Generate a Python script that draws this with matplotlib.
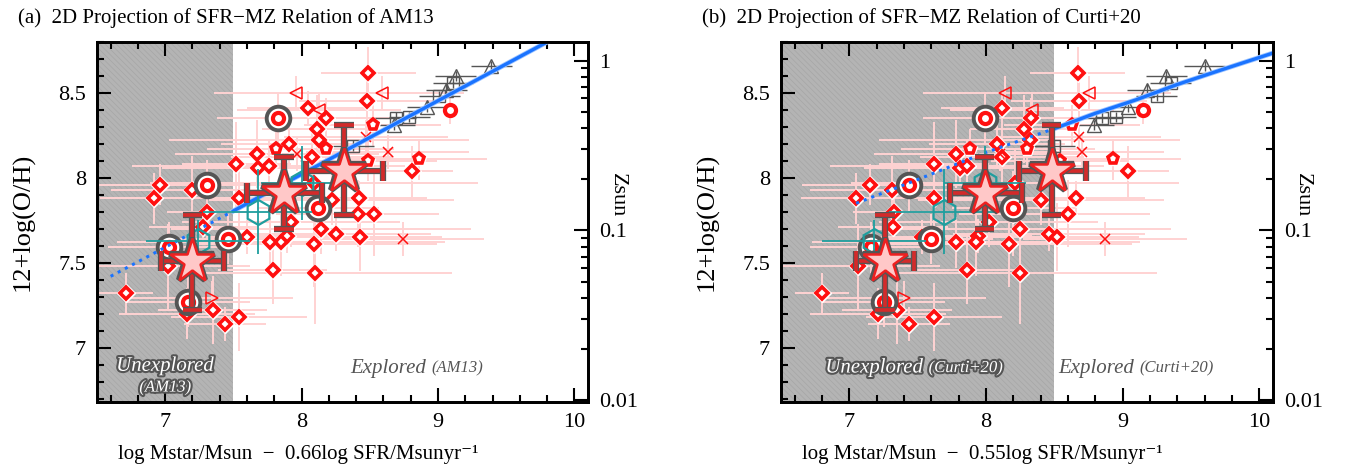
import numpy as np
import matplotlib.pyplot as plt
import matplotlib.patheffects as pe
from matplotlib.ticker import MultipleLocator, FixedLocator, FixedFormatter, NullFormatter

plt.rcParams['font.family'] = ['Liberation Serif', 'DejaVu Serif']
plt.rcParams['hatch.linewidth'] = 0.5

ZSUN = 8.69
YMIN, YMAX = 6.68, 8.8

# ---- red diamonds (same galaxies in both panels) ----
dia_y = [8.62, 8.45, 8.41, 8.35, 8.29, 8.22, 8.20, 8.14, 8.08, 8.06, 8.07, 8.12, 7.96, 7.88,
         7.93, 7.88, 7.80, 7.97, 7.87, 7.88, 7.79, 7.79, 7.70, 7.67, 7.65, 7.74, 7.66, 7.62,
         7.62, 7.61, 7.65, 7.46, 7.44, 8.04, 7.32, 7.22, 7.20, 7.14, 7.18, 7.48, 7.71]
dia_xa = [8.49, 8.48, 8.05, 8.18, 8.11, 8.13, 7.91, 7.67, 7.52, 7.68, 7.76, 8.08, 6.96, 6.92,
          7.20, 7.54, 7.31, 8.09, 8.22, 8.42, 8.41, 8.53, 8.14, 8.25, 8.43, 7.92, 7.89, 7.85,
          7.77, 8.09, 7.60, 7.79, 8.10, 8.81, 6.71, 7.35, 7.16, 7.44, 7.54, 7.02, 7.28]
dia_xb = [8.67, 8.68, 8.12, 8.33, 8.28, 8.32, 8.08, 7.78, 7.62, 7.81, 7.86, 8.12, 7.15, 7.05,
          7.31, 7.62, 7.33, 8.21, 8.40, 8.66, 8.60, 8.20, 8.25, 8.46, 8.52, 8.02, 7.94, 7.93,
          7.78, 8.17, 7.53, 7.86, 8.25, 9.04, 6.80, 7.35, 7.21, 7.44, 7.62, 7.06, 7.32]
dia_xerr = [0.35, 0.5, 0.45, 0.6, 0.4, 1.1, 0.5, 0.6, 0.4, 0.7, 1.0, 0.6, 0.5, 0.4, 0.6, 0.8,
            0.3, 1.2, 0.9, 0.5, 0.6, 0.4, 1.1, 0.7, 0.6, 0.8, 0.4, 1.2, 0.6, 0.9, 0.3, 0.4,
            1.0, 0.3, 0.2, 0.4, 0.5, 0.3, 0.5, 0.6, 0.4]
dia_yerr = [0.15, 0.2, 0.1, 0.12, 0.2, 0.1, 0.15, 0.2, 0.25, 0.1, 0.15, 0.2, 0.12, 0.15, 0.2,
            0.25, 0.1, 0.2, 0.15, 0.1, 0.2, 0.25, 0.15, 0.1, 0.2, 0.15, 0.1, 0.2, 0.15, 0.25,
            0.1, 0.2, 0.3, 0.15, 0.12, 0.2, 0.15, 0.1, 0.2, 0.25, 0.1]

# ---- red pentagons ----
pen_y = [8.17, 8.17, 8.31, 8.11, 8.10]
pen_xa = [7.81, 8.18, 8.52, 8.86, 8.49]
pen_xb = [7.88, 8.30, 8.63, 8.93, 8.54]

# ---- red open circles ----
cir_y = [8.40]
cir_xa = [9.09]
cir_xb = [9.15]

# ---- ringed targets ----
tgt_y = [8.35, 7.955, 7.64, 7.59, 7.27, 7.82]
tgt_xa = [7.83, 7.31, 7.46, 7.03, 7.17, 8.12]
tgt_xb = [7.99, 7.44, 7.60, 7.16, 7.25, 8.20]

# ---- open triangles left / right, crosses ----
ltri_y = [8.50, 8.50, 8.40]
ltri_xa = [7.96, 8.59, 8.13]
ltri_xb = [8.14, 8.75, 8.34]
rtri_y = [7.29]
rtri_xa = [7.34]
rtri_xb = [7.40]
crs_y = [8.14, 8.15, 7.64, 8.24]
crs_xa = [7.97, 8.63, 8.74, 8.47]
crs_xb = [8.10, 8.70, 8.87, 8.68]

# ---- gray stacks ----
gtri_y = [8.31, 8.42, 8.52, 8.60, 8.66]
gtri_xa = [8.68, 8.92, 9.06, 9.13, 9.39]
gtri_xb = [8.79, 9.04, 9.18, 9.32, 9.60]
gsq_y = [8.355, 8.36, 8.48, 8.56, 8.19]
gsq_xa = [8.69, 8.79, 9.01, 9.11, 8.38]
gsq_xb = [8.85, 8.95, 9.25, 9.35, 8.50]

# ---- teal hexagons ----
hex_y = [7.80, 7.63, 7.97]
hex_xa = [7.68, 7.24, 8.00]
hex_xb = [7.69, 7.18, 7.99]
hex_xerr = [0.4, 0.38, 0.3]
hex_yerr = [0.25, 0.12, 0.22]

# ---- stacked stars ----
star_y = [7.51, 7.91, 8.04]
star_yerr = [[0.29, 0.21, 0.26], [0.27, 0.21, 0.27]]
star_xa = [7.20, 7.87, 8.31]
star_xerr_a = [[0.23, 0.27, 0.28], [0.23, 0.28, 0.29]]
star_xb = [7.26, 7.99, 8.48]
star_xerr_b = [[0.21, 0.25, 0.24], [0.21, 0.27, 0.25]]

# ---- relations ----
fit_a_dot_x = [6.6, 7.5]
fit_a_dot_y = [7.42, 7.805]
fit_a_x = [7.5, 9.8]
fit_a_y = [7.805, 8.80]
fit_b_dot_x = [7.05, 7.5, 8.0, 8.5]
fit_b_dot_y = [7.85, 7.99, 8.15, 8.29]
fit_b_x = [8.5, 8.8, 9.1, 9.4, 9.7, 10.1]
fit_b_y = [8.29, 8.38, 8.46, 8.55, 8.63, 8.735]

PINK = '#ffd2d2'
RED = '#ff1010'
TEAL = '#1f9e9e'


def draw_panel(ax, xs, boundary, lab, coef, title, fit):
    ax.set_xlim(6.5, 10.1)
    ax.set_ylim(YMIN, YMAX)
    ax.axvspan(6.5, boundary, facecolor='#b4b4b4', edgecolor='#a6a6a6', hatch='\\\\\\\\\\\\',
               linewidth=0, zorder=0)

    # faint individual errors
    ax.errorbar(xs['dia'], dia_y, xerr=dia_xerr, yerr=dia_yerr, fmt='none', ecolor=PINK,
                elinewidth=1.4, zorder=1)
    ax.errorbar(xs['tgt'], tgt_y, xerr=0.45, yerr=0.15, fmt='none', ecolor=PINK, elinewidth=1.4, zorder=1)
    ax.errorbar(xs['pen'], pen_y, xerr=0.5, yerr=0.12, fmt='none', ecolor=PINK, elinewidth=1.4, zorder=1)
    ax.errorbar(xs['ltri'] + xs['crs'] + xs['rtri'], ltri_y + crs_y + rtri_y, xerr=0.6, yerr=0.1,
                fmt='none', ecolor=PINK, elinewidth=1.4, zorder=1)
    ax.errorbar(xs['cir'], cir_y, yerr=0.08, fmt='none', ecolor=PINK, elinewidth=1.4, zorder=1)

    # gray stacks
    ax.errorbar(xs['gtri'] + xs['gsq'], gtri_y + gsq_y, xerr=0.15, yerr=0.03, fmt='none',
                ecolor='#555555', elinewidth=1.0, zorder=2)
    ax.plot(xs['gtri'], gtri_y, '^', ms=10, mfc='none', mec='#555555', mew=1.0, zorder=3)
    ax.plot(xs['gsq'], gsq_y, 's', ms=8, mfc='none', mec='#555555', mew=1.0, zorder=3)

    # red galaxies
    ax.plot(xs['dia'], dia_y, 'D', ms=9, color='white', zorder=3)
    ax.plot(xs['dia'], dia_y, 'D', ms=6.5, mfc='white', mec=RED, mew=2.6, zorder=4)
    ax.plot(xs['pen'], pen_y, 'p', ms=10, color='white', zorder=3)
    ax.plot(xs['pen'], pen_y, 'p', ms=8, mfc='white', mec=RED, mew=2.6, zorder=4)
    ax.plot(xs['cir'], cir_y, 'o', ms=8, mfc='white', mec=RED, mew=3, zorder=4)
    ax.plot(xs['ltri'], ltri_y, '<', ms=9, mfc='none', mec=RED, mew=1.1, zorder=4)
    ax.plot(xs['rtri'], rtri_y, '>', ms=9, mfc='none', mec=RED, mew=1.1, zorder=4)
    ax.plot(xs['crs'], crs_y, 'x', ms=7, mec=RED, mew=1.1, zorder=4)
    ax.plot(xs['tgt'], tgt_y, 'o', ms=17, mfc='white', mec='#555555', mew=2.8, zorder=4)
    ax.plot(xs['tgt'], tgt_y, 'o', ms=8, mfc='white', mec=RED, mew=3, zorder=5)

    # relation
    ax.plot(fit[0], fit[1], ':', color='#1a73ff', lw=2.2, zorder=6)
    ax.plot(fit[2], fit[3], '-', color='#1a73ff', lw=2.4, zorder=6,
            path_effects=[pe.Stroke(linewidth=3.6, foreground='#9cc4ff'), pe.Normal()])

    # teal hexagons
    ax.errorbar(xs['hex'], hex_y, xerr=hex_xerr, yerr=hex_yerr, fmt='h', ms=18, mfc='none',
                mec=TEAL, mew=1.6, ecolor=TEAL, elinewidth=1.3, zorder=7)

    # stars
    eb = ax.errorbar(xs['star'], star_y, xerr=xs['star_err'], yerr=star_yerr, fmt='none',
                     ecolor='#d42a2a', elinewidth=2.6, capsize=7, capthick=2.6, zorder=8)
    outline = [pe.Stroke(linewidth=4.5, foreground='#555555'), pe.Normal()]
    for c in eb[1]:
        c.set_path_effects(outline)
    for c in eb[2]:
        c.set_path_effects(outline)
    ax.plot(xs['star'], star_y, '*', ms=33, mfc='none', mec='#555555', mew=4.5, zorder=9)
    ax.plot(xs['star'], star_y, '*', ms=33, mfc='#ffc8c8', mec='#ee2020', mew=1.8, zorder=10)

    # region labels
    wt = [pe.withStroke(linewidth=3, foreground='#555555')]
    if lab == 'AM13':
        ax.text(7.0, 6.89, 'Unexplored', ha='center', va='center', style='italic', fontsize=15,
                color='white', path_effects=wt, zorder=11)
        ax.text(7.0, 6.765, '(AM13)', ha='center', va='center', style='italic', fontsize=12,
                color='white', path_effects=wt, zorder=11)
        ax.text(8.95, 6.88, 'Explored ', ha='right', va='center', style='italic', fontsize=15,
                color='#555555', zorder=11)
        ax.text(8.95, 6.88, '(AM13)', ha='left', va='center', style='italic', fontsize=12,
                color='#555555', zorder=11)
    else:
        ax.text(7.58, 6.88, 'Unexplored ', ha='right', va='center', style='italic', fontsize=15,
                color='white', path_effects=wt, zorder=11)
        ax.text(7.58, 6.88, '(Curti+20)', ha='left', va='center', style='italic', fontsize=12,
                color='white', path_effects=wt, zorder=11)
        ax.text(9.12, 6.88, 'Explored ', ha='right', va='center', style='italic', fontsize=15,
                color='#555555', zorder=11)
        ax.text(9.12, 6.88, '(Curti+20)', ha='left', va='center', style='italic', fontsize=12,
                color='#555555', zorder=11)

    # axes styling
    ax.xaxis.set_major_locator(FixedLocator([7, 8, 9, 10]))
    ax.xaxis.set_minor_locator(MultipleLocator(0.2))
    ax.yaxis.set_major_locator(FixedLocator([7, 7.5, 8, 8.5]))
    ax.yaxis.set_minor_locator(MultipleLocator(0.1))
    ax.set_yticklabels(['7', '7.5', '8', '8.5'])
    ax.tick_params(which='both', direction='in', top=True, right=False, width=1.5, labelsize=16)
    ax.tick_params(which='major', length=10, pad=8)
    ax.tick_params(which='minor', length=5)
    for s in ax.spines.values():
        s.set_linewidth(2)
    ax.set_ylabel('12+log(O/H)', fontsize=19)
    ax.yaxis.set_label_coords(-0.127, 0.5)
    ax.set_xlabel('log Mstar/Msun  \u2212  %slog SFR/Msunyr\u207b\u00b9' % coef, fontsize=15)
    ax.xaxis.set_label_coords(0.41, -0.12)

    ax2 = ax.twinx()
    ax2.set_yscale('log')
    ax2.set_ylim(10 ** (YMIN - ZSUN), 10 ** (YMAX - ZSUN))
    ax2.yaxis.set_major_locator(FixedLocator([0.01, 0.1, 1]))
    ax2.yaxis.set_major_formatter(FixedFormatter(['0.01', '0.1', '1']))
    ax2.yaxis.set_minor_formatter(NullFormatter())
    ax2.tick_params(which='both', direction='in', width=1.5, labelsize=16)
    ax2.tick_params(which='major', length=10, pad=8)
    ax2.tick_params(which='minor', length=5)
    for s in ax2.spines.values():
        s.set_linewidth(2)
    ax2.set_ylabel('Zsun', rotation=270, fontsize=16)
    ax2.yaxis.set_label_coords(1.08, 0.575)

    ax.figure.text(ax.get_position().x0 - 0.058, 0.962, title, fontsize=15, ha='left', va='center')


fig = plt.figure(figsize=(13.67, 4.73), dpi=100)
ax_a = fig.add_axes([97 / 1367, 71 / 473, 491 / 1367, 360 / 473])
ax_b = fig.add_axes([781 / 1367, 71 / 473, 492 / 1367, 360 / 473])

xs_a = dict(dia=dia_xa, pen=pen_xa, cir=cir_xa, tgt=tgt_xa, ltri=ltri_xa, rtri=rtri_xa, crs=crs_xa,
            gtri=gtri_xa, gsq=gsq_xa, hex=hex_xa, star=star_xa, star_err=star_xerr_a)
xs_b = dict(dia=dia_xb, pen=pen_xb, cir=cir_xb, tgt=tgt_xb, ltri=ltri_xb, rtri=rtri_xb, crs=crs_xb,
            gtri=gtri_xb, gsq=gsq_xb, hex=hex_xb, star=star_xb, star_err=star_xerr_b)

draw_panel(ax_a, xs_a, 7.5, 'AM13', '0.66', '(a)  2D Projection of SFR\u2212MZ Relation of AM13',
           (fit_a_dot_x, fit_a_dot_y, fit_a_x, fit_a_y))
draw_panel(ax_b, xs_b, 8.5, 'Curti', '0.55', '(b)  2D Projection of SFR\u2212MZ Relation of Curti+20',
           (fit_b_dot_x, fit_b_dot_y, fit_b_x, fit_b_y))

fig.savefig('out.png', dpi=100)
